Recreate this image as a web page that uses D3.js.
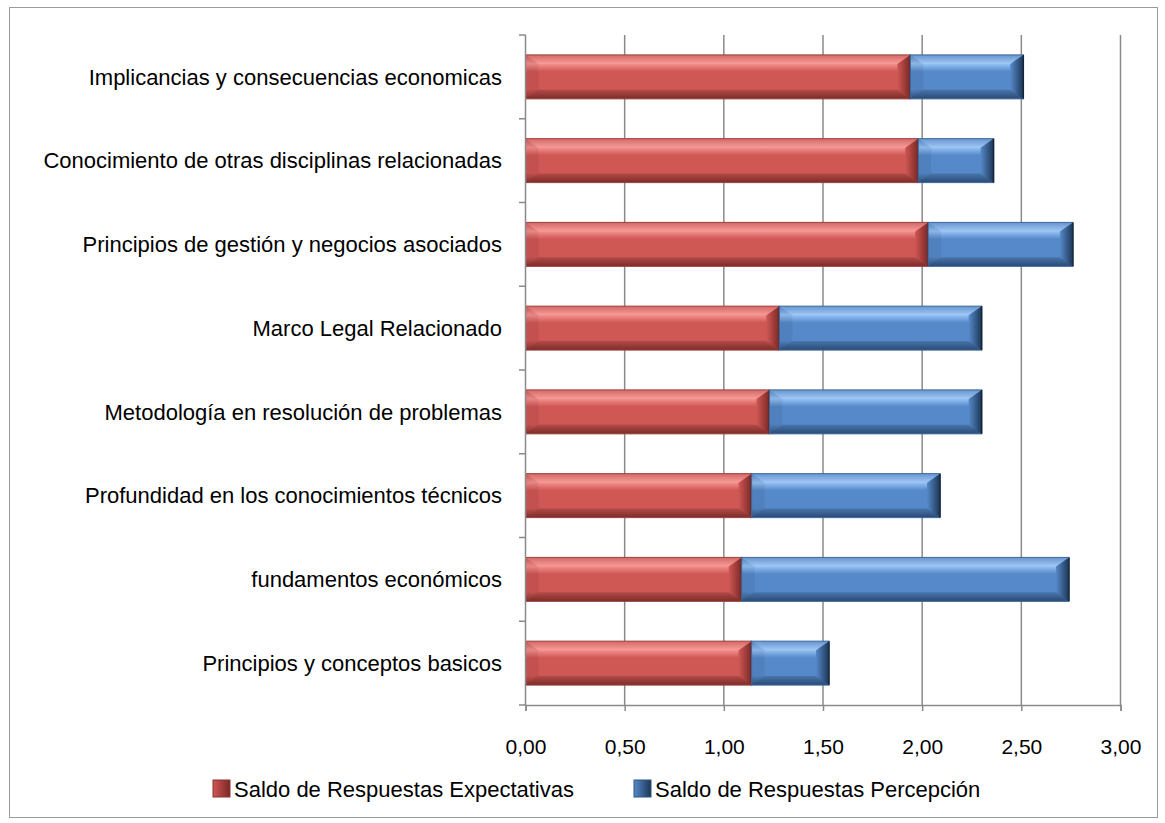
<!DOCTYPE html>
<html>
<head>
<meta charset="utf-8">
<script src="https://cdn.jsdelivr.net/npm/d3@7"></script>
<style>
  body { margin: 0; background: #fff; }
  text { font-family: "Liberation Sans", Arial, sans-serif; fill: #000; }
</style>
</head>
<body>
<div id="chart"></div>
<script>
var categories = [
  "Implicancias y consecuencias economicas",
  "Conocimiento de otras disciplinas relacionadas",
  "Principios de gestión y negocios asociados",
  "Marco Legal Relacionado",
  "Metodología en resolución de problemas",
  "Profundidad en los conocimientos técnicos",
  "fundamentos económicos",
  "Principios y conceptos basicos"
];
var expectativas = [1.94, 1.98, 2.03, 1.28, 1.23, 1.14, 1.09, 1.14];
var percepcion   = [0.57, 0.38, 0.73, 1.02, 1.07, 0.95, 1.65, 0.39];
var seriesNames = ["Saldo de Respuestas Expectativas", "Saldo de Respuestas Percepción"];
var tickValues = [0, 0.5, 1, 1.5, 2, 2.5, 3];

var width = 1165, height = 823;

var svg = d3.select("#chart").append("svg")
	.attr("width", width)
	.attr("height", height);

var defs = svg.append("defs");
var palette = [
  {id: "gRed", top: "#f5918e", mid: "#cf5754", bot: "#8e3330", face: "#7a2825"},
  {id: "gBlue", top: "#96c2f5", mid: "#5689c9", bot: "#2f5585", face: "#1d3656"}
];
palette.forEach(function(p) {
  var g = defs.append("linearGradient").attr("id", p.id).attr("x1", 0).attr("x2", 0).attr("y1", 0).attr("y2", 1);
  g.append("stop").attr("offset", "0%").attr("stop-color", p.mid);
  g.append("stop").attr("offset", "20%").attr("stop-color", p.top);
  g.append("stop").attr("offset", "38%").attr("stop-color", p.mid);
  g.append("stop").attr("offset", "78%").attr("stop-color", p.mid);
  g.append("stop").attr("offset", "100%").attr("stop-color", p.bot);
  var f = defs.append("linearGradient").attr("id", p.id + "R").attr("x1", 0).attr("x2", 1).attr("y1", 0).attr("y2", 0);
  f.append("stop").attr("offset", "0%").attr("stop-color", p.mid);
  f.append("stop").attr("offset", "100%").attr("stop-color", p.face);
});

// outer frame
svg.append("rect").attr("x", 9.5).attr("y", 7.5).attr("width", 1148).attr("height", 810)
	.attr("fill", "none").attr("stroke", "#9a9a9a").attr("stroke-width", 1);

var x = d3.scaleLinear().domain([0, 3]).range([525.5, 1120.5]);
var y = d3.scaleBand().domain(categories).range([35, 705]).paddingInner(0.475).paddingOuter(0.2375);

// gridlines
svg.append("g").selectAll("line").data(tickValues.slice(1)).enter().append("line")
	.attr("x1", function(d) { return x(d); }).attr("x2", function(d) { return x(d); })
	.attr("y1", 35).attr("y2", 705)
	.attr("stroke", "#8a8a8a").attr("stroke-width", 1.5);

// bars
var stacked = categories.map(function(c, i) {
  return [
    {cat: c, x0: 0, x1: expectativas[i], s: 0},
    {cat: c, x0: expectativas[i], x1: expectativas[i] + percepcion[i], s: 1}
  ];
});
var segs = [].concat.apply([], stacked);
var bev = 13, bevY = 9;

var bars = svg.append("g").selectAll("g").data(segs).enter().append("g");
bars.append("rect")
	.attr("x", function(d) { return x(d.x0); })
	.attr("y", function(d) { return y(d.cat); })
	.attr("width", function(d) { return x(d.x1) - x(d.x0); })
	.attr("height", y.bandwidth())
	.attr("fill", function(d) { return "url(#" + palette[d.s].id + ")"; });
// bevel faces
function face(d, which) {
  var l = x(d.x0), r = x(d.x1), t = y(d.cat), b = t + y.bandwidth();
  var bx = Math.min(bev, (r - l) / 2);
  var pts;
  if (which == "left") pts = [[l, t], [l + bx, t + bevY], [l + bx, b - bevY], [l, b]];
  if (which == "right") pts = [[r, t], [r - bx, t + bevY], [r - bx, b - bevY], [r, b]];
  if (which == "top") pts = [[l, t], [r, t], [r - bx, t + bevY], [l + bx, t + bevY]];
  if (which == "bottom") pts = [[l, b], [r, b], [r - bx, b - bevY], [l + bx, b - bevY]];
  return pts.map(function(p) { return p.join(","); }).join(" ");
}
bars.append("polygon").attr("points", function(d) { return face(d, "top"); })
	.attr("fill", "#fff").attr("fill-opacity", 0.1);
bars.append("polygon").attr("points", function(d) { return face(d, "bottom"); })
	.attr("fill", "#000").attr("fill-opacity", 0.12);
bars.append("polygon").attr("points", function(d) { return face(d, "left"); })
	.attr("fill", "#000").attr("fill-opacity", 0.06);
bars.append("polygon").attr("points", function(d) { return face(d, "right"); })
	.attr("fill", function(d) { return "url(#" + palette[d.s].id + "R)"; });
bars.append("rect")
	.attr("x", function(d) { return x(d.x0); })
	.attr("y", function(d) { return y(d.cat); })
	.attr("width", function(d) { return x(d.x1) - x(d.x0); })
	.attr("height", y.bandwidth())
	.attr("fill", "none")
	.attr("stroke", function(d) { return d.s ? "#3f6a9c" : "#9c4441"; })
	.attr("stroke-width", 1);
bars.append("line")
	.attr("x1", function(d) { return x(d.x1); }).attr("x2", function(d) { return x(d.x1); })
	.attr("y1", function(d) { return y(d.cat); }).attr("y2", function(d) { return y(d.cat) + y.bandwidth(); })
	.attr("stroke", function(d) { return d.s ? "#14253a" : "#4a1715"; }).attr("stroke-width", 1.5);

// left axis
svg.append("line").attr("x1", 525.5).attr("x2", 525.5).attr("y1", 35).attr("y2", 705)
	.attr("stroke", "#8a8a8a").attr("stroke-width", 1.5);
var bounds = d3.range(categories.length + 1).map(function(i) { return 35 + i * y.step(); });
svg.append("g").selectAll("line").data(bounds).enter().append("line")
	.attr("x1", 519).attr("x2", 525.5)
	.attr("y1", function(d) { return d; }).attr("y2", function(d) { return d; })
	.attr("stroke", "#8a8a8a").attr("stroke-width", 1.5);

// bottom axis
var xAxis = d3.axisBottom(x).tickValues(tickValues).tickSize(6)
	.tickFormat(function(d) { return d3.format(".2f")(d).replace(".", ","); });
var gx = svg.append("g").attr("transform", "translate(0,705)").call(xAxis);
gx.select(".domain").attr("stroke", "#8a8a8a").attr("stroke-width", 1.5);
gx.selectAll(".tick line").attr("stroke", "#8a8a8a").attr("stroke-width", 1.5);
gx.selectAll(".tick text").attr("font-size", 21).attr("dy", 0).attr("y", 49)
	.style("font-family", "'Liberation Sans', Arial, sans-serif").attr("fill", "#000");

// category labels
svg.append("g").selectAll("text").data(categories).enter().append("text")
	.attr("x", 502)
	.attr("y", function(d) { return y(d) + y.bandwidth() / 2; })
	.attr("dy", "0.35em")
	.attr("text-anchor", "end")
	.attr("font-size", 22)
	.text(function(d) { return d; });

// legend
var legendX = [213, 634];
var lg = svg.append("g").selectAll("g").data(seriesNames).enter().append("g")
	.attr("transform", function(d, i) { return "translate(" + legendX[i] + ",780)"; });
lg.append("rect").attr("width", 17).attr("height", 17)
	.attr("fill", function(d, i) { return "url(#" + palette[i].id + "R)"; })
	.attr("stroke", function(d, i) { return i ? "#2f5585" : "#8e3330"; });
lg.append("text").attr("x", 21).attr("y", 9).attr("dy", "0.35em").attr("font-size", 22)
	.text(function(d) { return d; });
</script>
</body>
</html>
